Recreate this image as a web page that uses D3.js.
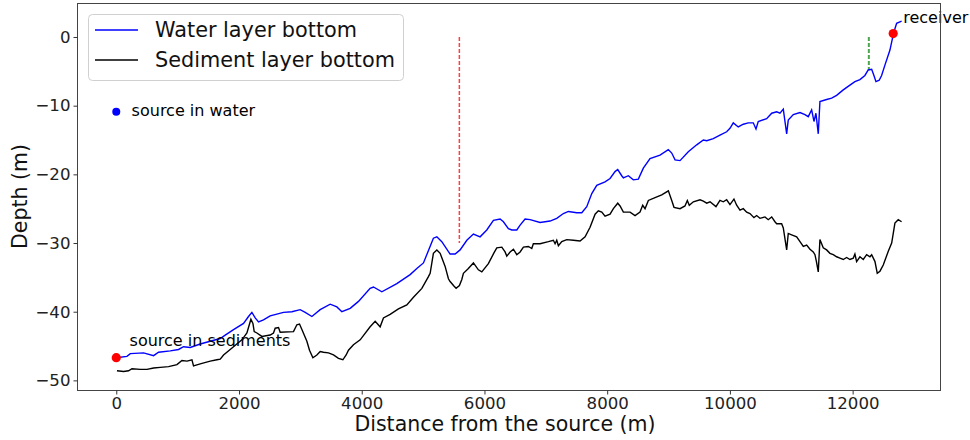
<!DOCTYPE html>
<html><head><meta charset="utf-8">
<script src="https://cdn.jsdelivr.net/npm/d3@7"></script>
<style>body{margin:0;background:#fff}svg{display:block;font-family:"DejaVu Sans",sans-serif}</style>
</head><body><svg id="c" width="970" height="440"></svg>
<script>
// distance (m) and depth (m)
const waterDist = [0,174,228,445,608,689,880,1015,1096,1205,1368,1531,1694,1775,1911,2074,2155,2210,2264,2318,2399,2508,2725,2862,2997,3079,3188,3323,3486,3595,3676,3812,3947,4137,4191,4328,4572,4789,4898,5006,5168,5224,5305,5440,5522,5603,5713,5820,5929,6038,6146,6255,6309,6390,6446,6527,6581,6662,6744,6906,7069,7178,7286,7368,7504,7586,7667,7749,7830,7965,8047,8128,8172,8237,8264,8345,8426,8508,8589,8698,8861,8996,9052,9106,9187,9322,9459,9567,9622,9729,9838,9947,10001,10055,10136,10218,10299,10381,10425,10462,10599,10681,10762,10816,10870,10925,10951,11033,11142,11223,11277,11332,11370,11402,11440,11467,11576,11658,11739,11847,11956,12037,12119,12200,12254,12310,12347,12380,12433,12472,12526,12608,12661,12689,12717,12770,12798];
const waterDepth = [-46.7,-46.5,-46.1,-46.0,-46.4,-45.9,-45.7,-45.5,-45.1,-45.2,-44.7,-44.3,-43.9,-43.4,-42.6,-41.7,-40.7,-40.1,-40.9,-41.5,-41.2,-40.6,-40.1,-40.0,-39.7,-40.1,-40.7,-39.7,-38.9,-39.3,-40.0,-39.5,-38.5,-36.6,-36.4,-37.1,-35.9,-34.6,-33.7,-32.9,-29.3,-29.1,-29.8,-31.6,-31.6,-31.0,-29.6,-28.7,-29.1,-28.1,-26.7,-26.5,-26.9,-27.9,-28.1,-28.1,-27.4,-26.5,-26.6,-27.0,-26.8,-26.4,-25.7,-25.4,-25.6,-25.6,-24.7,-22.8,-21.6,-21.1,-20.6,-19.6,-19.3,-20.2,-20.5,-20.2,-20.8,-20.7,-19.1,-17.7,-17.2,-16.4,-16.9,-17.9,-18.0,-16.7,-15.7,-15.0,-15.1,-14.8,-14.3,-13.8,-13.3,-12.5,-13.1,-12.7,-12.5,-12.5,-13.4,-12.3,-11.9,-11.1,-10.9,-11.1,-10.5,-14.1,-12.1,-11.3,-11.0,-11.3,-11.6,-10.6,-12.3,-11.1,-14.1,-9.4,-9.1,-8.9,-8.5,-7.7,-7.0,-6.5,-6.2,-5.6,-4.8,-4.7,-5.6,-6.5,-6.3,-5.6,-4.1,-1.9,0.3,1.2,2.0,2.2,2.3];

const sedDist = [11,119,200,256,391,500,608,717,852,989,1070,1152,1233,1259,1368,1531,1640,1694,1748,1911,2047,2129,2194,2227,2248,2292,2373,2508,2562,2590,2644,2671,2888,2943,2986,3025,3106,3149,3204,3269,3323,3377,3458,3540,3621,3693,3746,3784,3865,3975,4137,4219,4300,4354,4463,4598,4735,4843,4980,5087,5115,5168,5224,5278,5359,5413,5440,5506,5538,5592,5631,5657,5738,5820,5901,5957,6064,6157,6201,6283,6336,6364,6418,6472,6527,6581,6635,6716,6771,6797,6906,7042,7123,7151,7178,7205,7260,7341,7449,7558,7640,7721,7803,7856,7912,7965,8047,8101,8172,8210,8264,8373,8454,8535,8579,8617,8671,8780,8889,8997,9052,9089,9187,9268,9306,9338,9404,9513,9567,9622,9676,9773,9838,9892,9947,10001,10066,10110,10164,10218,10273,10327,10392,10436,10490,10571,10625,10681,10734,10762,10843,10870,10925,10951,11006,11088,11142,11196,11251,11305,11358,11386,11410,11440,11467,11521,11576,11630,11684,11739,11793,11847,11902,11956,12010,12037,12065,12119,12173,12228,12282,12310,12364,12401,12445,12499,12581,12636,12662,12689,12743,12798];
const sedDepth = [-48.6,-48.7,-48.6,-48.3,-48.4,-48.4,-48.2,-48.1,-48.0,-47.7,-47.1,-47.2,-47.0,-47.9,-47.6,-47.2,-47.0,-46.9,-46.3,-45.1,-44.1,-43.1,-41.1,-41.7,-42.9,-43.1,-43.6,-43.4,-43.1,-42.4,-42.3,-43.0,-42.9,-41.9,-41.8,-42.6,-44.3,-45.6,-46.7,-46.3,-45.8,-45.9,-46.0,-46.3,-46.8,-47.0,-46.3,-45.6,-44.8,-44.1,-42.2,-41.4,-42.2,-40.9,-40.4,-39.6,-39.0,-37.9,-36.6,-34.9,-34.4,-31.5,-31.0,-31.5,-33.4,-35.2,-35.6,-36.3,-36.6,-36.2,-35.3,-34.4,-33.7,-32.9,-33.9,-34.2,-33.0,-31.4,-30.7,-30.6,-31.3,-31.9,-31.3,-30.9,-31.7,-31.3,-30.6,-30.5,-30.8,-30.1,-30.1,-29.8,-29.6,-30.1,-29.6,-30.4,-29.8,-29.5,-29.6,-29.7,-29.1,-27.7,-25.8,-25.3,-25.5,-26.1,-25.8,-25.0,-24.2,-24.6,-25.5,-25.5,-26.0,-25.5,-24.5,-25.0,-23.8,-23.4,-23.0,-22.4,-23.8,-24.8,-25.0,-24.6,-23.8,-24.5,-24.0,-23.7,-23.9,-24.2,-24.0,-24.7,-23.8,-24.0,-23.7,-24.4,-23.6,-24.5,-25.2,-25.0,-25.5,-25.7,-26.3,-26.0,-26.4,-26.2,-26.6,-26.2,-26.9,-27.2,-27.2,-27.8,-31.0,-28.6,-28.8,-29.1,-29.8,-30.5,-30.3,-30.9,-31.3,-31.7,-32.7,-34.2,-29.5,-30.7,-31.0,-31.5,-31.7,-32.0,-32.2,-32.4,-32.1,-32.4,-32.2,-31.6,-32.7,-32.0,-32.4,-31.7,-32.0,-31.7,-32.7,-34.4,-34.1,-33.2,-31.2,-30.0,-28.6,-27.1,-26.6,-26.9];

const xTicks = [0,2000,4000,6000,8000,10000,12000];
const yTicks = [0,-10,-20,-30,-40,-50];
const seriesNames = ["Water layer bottom","Sediment layer bottom"];
const seriesColors = ["#0000ff","#000000"];
// markers: [distance, depth]
const sourceWater = [0,-10.9];
const sourceSed = [0,-46.7];
const receiver = [12661,0.5];
const redCut = [5591,0,-30];   // x, top, bottom
const greenCut = [12264,0,-4.8];
const labels = [
  {text:"source in water", x:250, y:-11.5},
  {text:"source in sediments", x:217, y:-45.0},
  {text:"receiver", x:12825, y:2.05}
];

const svg = d3.select("#c");
const L=77, R=941, T=3, B=390;
const x = d3.scaleLinear().domain([-640,13440]).range([L,R]);
const y = d3.scaleLinear().domain([-51.4,4.95]).range([B,T]);

const g = svg.append("g");
const line = d3.line().x(d=>x(d[0])).y(d=>y(d[1]));

// dashed verticals
g.append("line").attr("x1",x(redCut[0])).attr("x2",x(redCut[0]))
 .attr("y1",y(redCut[1])).attr("y2",y(redCut[2]))
 .attr("stroke","#ff0000").attr("stroke-opacity",0.75).attr("stroke-width",1.5).attr("stroke-dasharray","4,2");
g.append("line").attr("x1",x(greenCut[0])).attr("x2",x(greenCut[0]))
 .attr("y1",y(greenCut[1])).attr("y2",y(greenCut[2]))
 .attr("stroke","#008000").attr("stroke-opacity",0.7).attr("stroke-width",2).attr("stroke-dasharray","4,2");

g.append("path").datum(waterDist.map((d,i)=>[d,waterDepth[i]]))
 .attr("d",line).attr("fill","none").attr("stroke",seriesColors[0]).attr("stroke-width",1.4);
g.append("path").datum(sedDist.map((d,i)=>[d,sedDepth[i]]))
 .attr("d",line).attr("fill","none").attr("stroke",seriesColors[1]).attr("stroke-width",1.4);

// dots
g.append("circle").attr("cx",x(sourceWater[0])).attr("cy",y(sourceWater[1])).attr("r",4).attr("fill","#0000ff");
g.append("circle").attr("cx",x(sourceSed[0])).attr("cy",y(sourceSed[1])).attr("r",4.6).attr("fill","#ff0000");
g.append("circle").attr("cx",x(receiver[0])).attr("cy",y(receiver[1])).attr("r",4.6).attr("fill","#ff0000");

labels.forEach(l=>{
  g.append("text").attr("x",x(l.x)).attr("y",y(l.y)).attr("font-size",16).attr("fill","#000").text(l.text);
});

// frame
svg.append("rect").attr("x",L+0.5).attr("y",T+0.5).attr("width",R-L-1).attr("height",B-T).attr("fill","none").attr("stroke","#444").attr("stroke-width",1);

// axes
const xa = svg.append("g").attr("transform",`translate(0,${B+0.5})`)
 .call(d3.axisBottom(x).tickValues(xTicks).tickSize(4).tickPadding(3).tickFormat(d3.format("d")));
const ya = svg.append("g").attr("transform",`translate(${L+0.5},0)`)
 .call(d3.axisLeft(y).tickValues(yTicks).tickSize(4).tickPadding(3).tickFormat(d=>d<0?"\u2212"+Math.abs(d):String(d)));
[xa,ya].forEach(a=>{
  a.select(".domain").remove();
  a.selectAll(".tick line").attr("stroke","#333");
  a.selectAll(".tick text").attr("font-size",16.6).attr("font-family","DejaVu Sans").attr("fill","#222");
});

svg.append("text").attr("x",505).attr("y",431).attr("text-anchor","middle")
 .attr("font-size",20.5).attr("fill","#111").text("Distance from the source (m)");
svg.append("text").attr("transform",`translate(27,${(T+B)/2}) rotate(-90)`).attr("text-anchor","middle")
 .attr("font-size",20.5).attr("fill","#111").text("Depth (m)");

// legend
const lg = svg.append("g");
lg.append("rect").attr("x",88.5).attr("y",14.5).attr("width",315).attr("height",66).attr("rx",4)
 .attr("fill","#fff").attr("fill-opacity",0.8).attr("stroke","#d0d0d0");
seriesNames.forEach((n,i)=>{
  const yy = 30 + i*30;
  lg.append("line").attr("x1",95).attr("x2",138).attr("y1",yy).attr("y2",yy)
    .attr("stroke",seriesColors[i]).attr("stroke-width",1.5);
  lg.append("text").attr("x",155).attr("y",yy+7.3).attr("font-size",20.8).attr("fill","#111").text(n);
});
</script></body></html>
